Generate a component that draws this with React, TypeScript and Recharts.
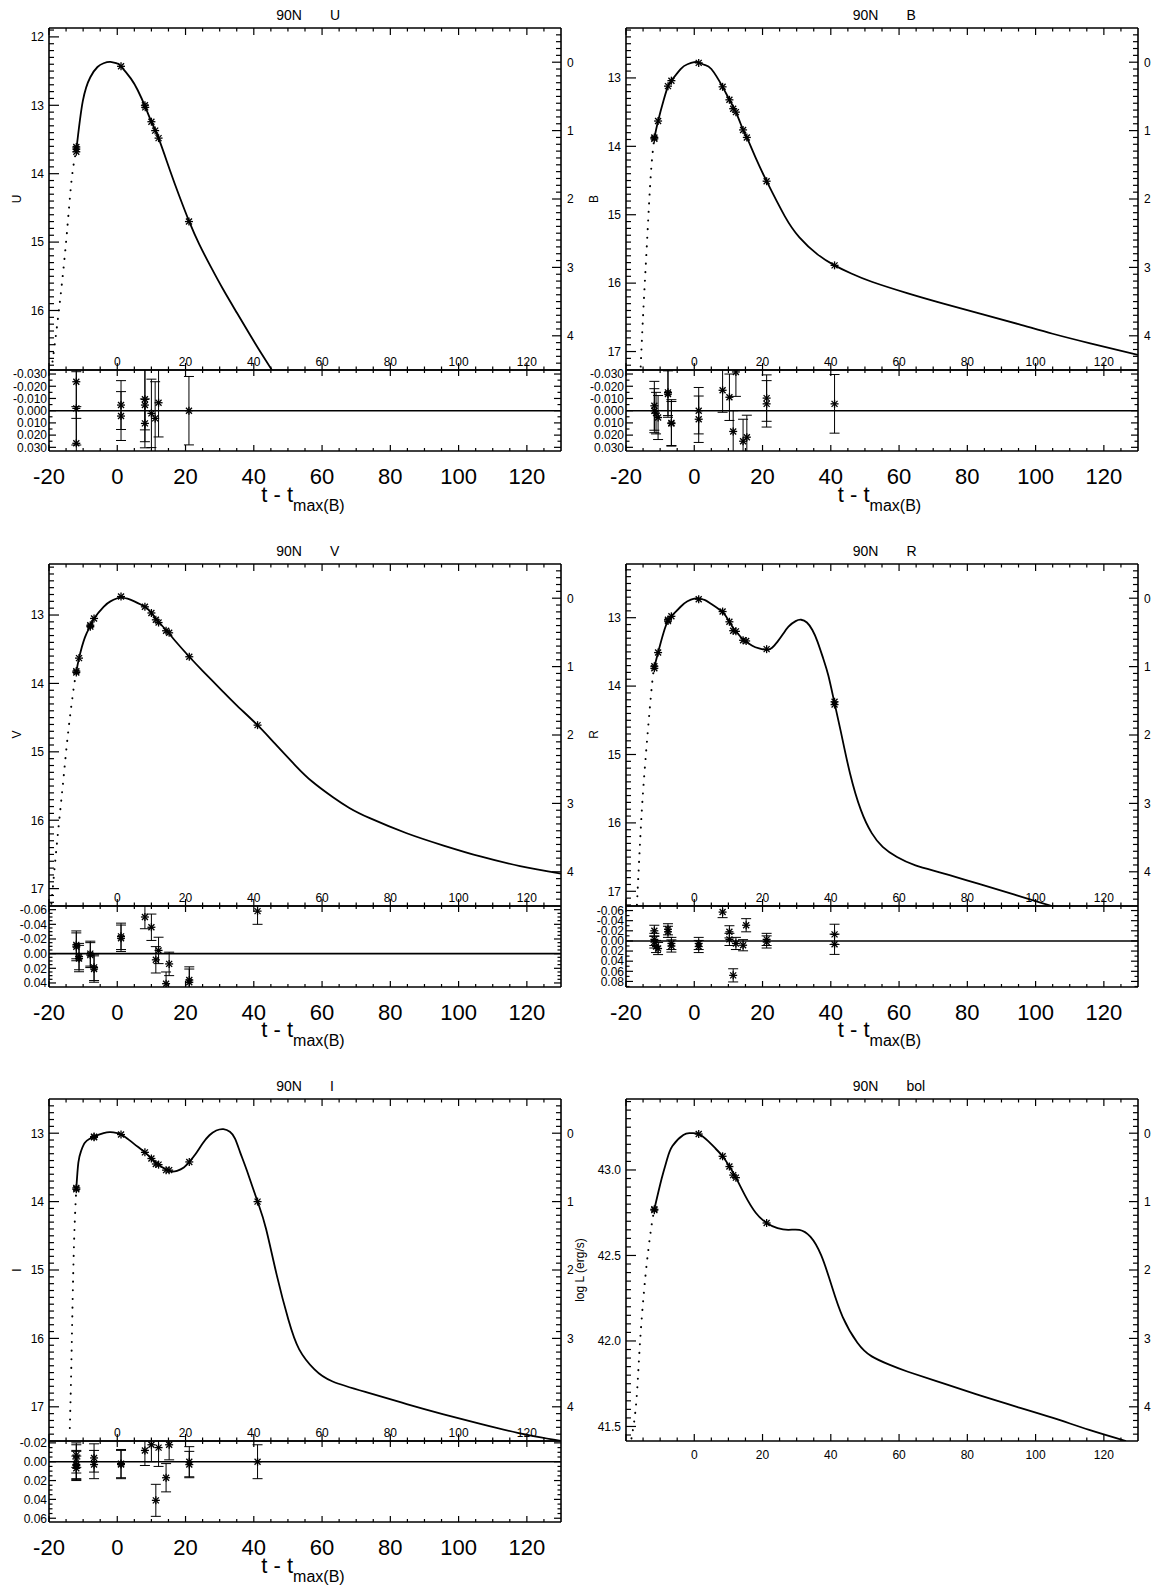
import React from 'react'
import { ComposedChart, Line, Scatter, XAxis, YAxis, ReferenceLine, ErrorBar } from 'recharts'

// ---- data: [t - tmax(B) (days), magnitude]  /  residuals: [t, resid, err] ----
const uObs = [[-12.0, 13.61], [-12.0, 13.64], [-12.0, 13.68], [1.1, 12.43], [8.1, 13.0], [8.2, 13.03], [10.0, 13.24], [11.1, 13.37], [12.1, 13.48], [21.0, 14.7]]
const uRise = [[-19.3, 16.87], [-17.2, 16.04], [-15.0, 15.0], [-13.4, 14.1], [-12.0, 13.66]]
const uFit = [[-12.0, 13.66], [-10.1, 12.94], [-7.9, 12.59], [-5.8, 12.44], [-4.0, 12.385], [-2.0, 12.365], [0.0, 12.39], [1.1, 12.43], [4.0, 12.61], [6.0, 12.78], [8.1, 13.01], [10.0, 13.24], [12.1, 13.48], [15.4, 13.945], [18.2, 14.33], [21.0, 14.69], [24.0, 15.03], [27.5, 15.37], [31.0, 15.69], [35.0, 16.03], [38.7, 16.34], [42.0, 16.61], [45.3, 16.87]]
const uRes = [[-12.0, -0.0237, 0.03], [-12.0, -0.0019, 0.03], [-12.0, 0.0267, 0.03], [1.1, -0.0046, 0.02], [1.1, 0.0044, 0.02], [8.1, -0.0093, 0.025], [8.1, -0.0046, 0.03], [8.1, 0.0104, 0.02], [10.0, 0.0022, 0.028], [11.1, 0.0063, 0.03], [12.1, -0.0065, 0.028], [21.0, 0.0, 0.028]]

const bObs = [[-11.7, 13.87], [-11.7, 13.89], [-10.6, 13.63], [-7.7, 13.12], [-6.7, 13.04], [1.3, 12.78], [8.3, 13.13], [10.3, 13.32], [11.4, 13.45], [12.2, 13.5], [14.3, 13.76], [15.4, 13.87], [21.2, 14.51], [41.1, 15.74]]
const bRise = [[-15.7, 17.22], [-14.9, 16.38], [-13.8, 15.36], [-12.7, 14.39], [-11.7, 13.88]]
const bFit = [[-11.7, 13.88], [-10.6, 13.63], [-9.0, 13.33], [-7.7, 13.12], [-6.7, 13.04], [-4.0, 12.87], [-2.0, 12.8], [0.0, 12.77], [1.3, 12.775], [3.0, 12.81], [5.0, 12.87], [8.3, 13.13], [10.3, 13.32], [12.2, 13.5], [14.3, 13.76], [15.4, 13.87], [18.0, 14.17], [21.2, 14.51], [26.5, 15.02], [30.8, 15.33], [36.1, 15.58], [41.1, 15.74], [46.0, 15.86], [52.0, 15.98], [62.6, 16.15], [73.0, 16.3], [84.0, 16.45], [95.0, 16.6], [105.0, 16.74], [116.0, 16.88], [130.0, 17.05]]
const bRes = [[-11.7, 0.0, 0.018], [-11.7, -0.004, 0.02], [-11.2, 0.002, 0.017], [-10.6, 0.0056, 0.018], [-7.7, -0.015, 0.019], [-7.7, -0.0136, 0.019], [-6.7, 0.01, 0.019], [-6.7, 0.0105, 0.018], [1.3, 0.0, 0.019], [1.3, 0.007, 0.019], [8.3, -0.0167, 0.018], [10.3, -0.011, 0.019], [11.4, 0.017, 0.017], [12.2, -0.0317, 0.02], [14.3, 0.025, 0.018], [15.4, 0.0217, 0.018], [21.2, -0.0103, 0.019], [21.2, -0.0056, 0.019], [41.1, -0.0056, 0.024]]

const vObs = [[-12.0, 13.84], [-12.0, 13.82], [-11.2, 13.63], [-7.9, 13.15], [-7.9, 13.17], [-6.8, 13.05], [1.1, 12.73], [8.1, 12.88], [10.0, 12.97], [11.3, 13.07], [12.1, 13.11], [14.3, 13.23], [15.2, 13.26], [21.1, 13.61], [41.1, 14.61]]
const vRise = [[-19.3, 17.22], [-17.7, 16.35], [-16.0, 15.51], [-14.4, 14.72], [-12.8, 14.08], [-12.0, 13.83]]
const vFit = [[-12.0, 13.83], [-11.2, 13.63], [-9.5, 13.33], [-7.9, 13.16], [-6.8, 13.05], [-4.0, 12.88], [-2.0, 12.8], [0.0, 12.755], [1.1, 12.745], [3.0, 12.76], [5.0, 12.8], [8.1, 12.88], [10.0, 12.97], [12.1, 13.1], [14.3, 13.22], [17.0, 13.38], [21.1, 13.61], [25.0, 13.815], [30.6, 14.1], [35.0, 14.32], [41.1, 14.61], [46.0, 14.87], [52.2, 15.2], [57.0, 15.43], [63.1, 15.66], [68.0, 15.82], [74.0, 15.97], [84.8, 16.19], [95.6, 16.37], [106.4, 16.53], [118.0, 16.67], [130.0, 16.78]]
const vRes = [[-12.0, -0.0093, 0.019], [-12.0, -0.012, 0.019], [-11.2, 0.004, 0.018], [-11.2, 0.0067, 0.018], [-7.9, 0.0, 0.017], [-7.9, 0.002, 0.017], [-6.8, 0.0187, 0.018], [-6.8, 0.021, 0.018], [1.1, -0.021, 0.018], [1.1, -0.0236, 0.018], [8.1, -0.05, 0.016], [10.0, -0.036, 0.018], [11.3, 0.0084, 0.018], [12.1, -0.0044, 0.018], [14.3, 0.041, 0.016], [15.2, 0.014, 0.016], [21.1, 0.036, 0.018], [21.1, 0.039, 0.018], [41.1, -0.058, 0.018]]

const rObs = [[-11.7, 13.71], [-11.7, 13.74], [-10.6, 13.51], [-7.7, 13.05], [-7.7, 13.03], [-6.7, 12.98], [1.3, 12.73], [8.3, 12.91], [10.3, 13.06], [11.4, 13.19], [12.2, 13.2], [14.3, 13.33], [15.2, 13.34], [21.2, 13.46], [41.1, 14.23], [41.1, 14.27]]
const rRise = [[-16.8, 17.2], [-15.9, 16.3], [-14.9, 15.47], [-13.3, 14.48], [-12.2, 13.89], [-11.7, 13.72]]
const rFit = [[-11.7, 13.72], [-10.6, 13.51], [-9.0, 13.22], [-7.7, 13.04], [-6.7, 12.98], [-4.0, 12.84], [-2.0, 12.76], [0.0, 12.72], [1.3, 12.72], [3.0, 12.74], [5.0, 12.8], [8.3, 12.92], [10.3, 13.06], [11.4, 13.15], [12.2, 13.2], [14.3, 13.32], [15.2, 13.35], [17.0, 13.41], [19.0, 13.45], [21.2, 13.47], [22.8, 13.44], [24.4, 13.35], [26.0, 13.24], [27.6, 13.13], [29.7, 13.05], [31.3, 13.03], [33.0, 13.07], [34.6, 13.18], [36.1, 13.35], [37.8, 13.6], [39.3, 13.85], [41.1, 14.25], [43.0, 14.68], [45.6, 15.27], [48.8, 15.81], [52.0, 16.15], [55.2, 16.35], [59.4, 16.5], [64.8, 16.62], [73.2, 16.74], [83.9, 16.9], [94.5, 17.06], [105.0, 17.22]]
const rRes = [[-11.7, -0.02, 0.011], [-11.7, -0.003, 0.012], [-11.7, 0.002, 0.012], [-11.2, 0.011, 0.012], [-10.6, 0.015, 0.012], [-7.7, -0.023, 0.011], [-7.7, -0.018, 0.011], [-6.7, 0.005, 0.012], [-6.7, 0.01, 0.012], [1.3, 0.005, 0.012], [1.3, 0.011, 0.012], [8.3, -0.057, 0.011], [10.3, -0.018, 0.012], [10.3, -0.003, 0.012], [11.4, 0.068, 0.013], [12.2, 0.005, 0.012], [14.3, 0.0085, 0.011], [15.2, -0.031, 0.013], [21.2, -0.003, 0.012], [21.2, 0.002, 0.012], [41.1, -0.013, 0.02], [41.1, 0.0066, 0.02]]

const iObs = [[-12.0, 13.8], [-12.0, 13.82], [-6.8, 13.06], [-6.8, 13.05], [1.1, 13.02], [8.1, 13.28], [10.0, 13.37], [11.3, 13.45], [12.1, 13.46], [14.3, 13.54], [15.2, 13.54], [21.1, 13.42], [41.1, 14.0]]
const iRise = [[-13.9, 17.31], [-13.5, 16.5], [-13.1, 15.5], [-12.6, 14.5], [-12.0, 13.81]]
const iFit = [[-12.0, 13.81], [-11.4, 13.43], [-10.6, 13.26], [-9.5, 13.14], [-8.0, 13.08], [-6.8, 13.05], [-4.0, 13.0], [-2.0, 12.985], [0.0, 13.0], [1.1, 13.02], [3.0, 13.08], [5.0, 13.16], [8.1, 13.28], [10.0, 13.37], [12.1, 13.46], [14.3, 13.53], [15.9, 13.56], [17.5, 13.55], [19.5, 13.5], [21.1, 13.42], [23.0, 13.3], [25.0, 13.15], [27.0, 13.03], [29.0, 12.96], [31.1, 12.94], [33.0, 12.98], [34.5, 13.08], [36.0, 13.28], [38.0, 13.55], [41.1, 14.0], [43.6, 14.4], [46.8, 15.09], [50.1, 15.72], [53.3, 16.16], [57.7, 16.45], [63.1, 16.63], [73.9, 16.8], [84.8, 16.96], [95.6, 17.11], [106.4, 17.25], [117.3, 17.38], [130.0, 17.5]]
const iRes = [[-12.0, -0.007, 0.013], [-12.0, -0.003, 0.015], [-12.0, 0.003, 0.015], [-12.0, 0.004, 0.015], [-12.0, 0.007, 0.013], [-6.8, -0.004, 0.015], [-6.8, 0.003, 0.015], [1.1, 0.002, 0.015], [1.1, 0.003, 0.015], [8.1, -0.012, 0.016], [10.0, -0.018, 0.018], [11.3, 0.041, 0.017], [12.1, -0.015, 0.02], [14.3, 0.017, 0.015], [15.2, -0.018, 0.016], [21.1, 0.0, 0.016], [21.1, 0.003, 0.014], [41.1, 0.0, 0.018]]

// bolometric: [t, log L]
const bolObs = [[-11.7, 42.77], [-11.7, 42.765], [1.3, 43.21], [8.3, 43.08], [10.3, 43.02], [11.4, 42.97], [12.2, 42.955], [21.2, 42.69]]
const bolRise = [[-18.4, 41.43], [-17.0, 41.64], [-15.9, 41.99], [-14.3, 42.38], [-12.7, 42.65], [-11.7, 42.77]]
const bolFit = [[-11.7, 42.77], [-9.55, 42.95], [-8.0, 43.06], [-6.4, 43.14], [-3.2, 43.205], [-1.1, 43.215], [1.3, 43.21], [4.0, 43.17], [6.0, 43.13], [8.3, 43.08], [10.3, 43.02], [12.2, 42.955], [14.9, 42.85], [18.0, 42.75], [21.2, 42.69], [24.4, 42.66], [27.6, 42.65], [30.8, 42.65], [34.0, 42.61], [37.2, 42.5], [40.3, 42.32], [43.5, 42.14], [47.8, 41.99], [52.0, 41.91], [57.3, 41.86], [62.6, 41.82], [73.2, 41.75], [83.9, 41.68], [94.5, 41.615], [105.1, 41.55], [115.7, 41.48], [126.5, 41.415]]

// ---- tick labels ----
const X_MAJOR = [-20, 0, 20, 40, 60, 80, 100, 120]
const X_SMALL_LABELS = [0, 20, 40, 60, 80, 100, 120]
const X_BIG_LABELS = [-20, 0, 20, 40, 60, 80, 100, 120]
const REL_LABELS = [0, 1, 2, 3, 4]
const MAG_LABELS_U = [12, 13, 14, 15, 16]
const MAG_LABELS = [13, 14, 15, 16, 17]
const BOL_LABELS = [41.5, 42.0, 42.5, 43.0]
const RES_LABELS_UB = [-0.03, -0.02, -0.01, 0, 0.01, 0.02, 0.03]
const RES_LABELS_V = [-0.06, -0.04, -0.02, 0, 0.02, 0.04]
const RES_LABELS_R = [-0.06, -0.04, -0.02, 0, 0.02, 0.04, 0.06, 0.08]
const RES_LABELS_I = [-0.02, 0, 0.02, 0.04, 0.06]

const FONT = '"Liberation Sans", Arial, Helvetica, sans-serif'
const PL = 49, PT = 28, PW = 512, PH = 342
const RPT = 10, RPH = 81
const CW = 574
const COLS = [49, 625.5]
const ROWS = [28, 563.5, 1099]

const range = (a: number, b: number, s: number) => {
  const n = Math.round((b - a) / s)
  return Array.from({ length: n + 1 }, (_, i) => Math.round((a + i * s) * 1e5) / 1e5)
}
const has = (arr: number[], v: number) => arr.some((a) => Math.abs(a - v) < 1e-6)
const pts = (a: number[][]) => a.map(([t, m]) => ({ t, m }))
const res = (a: number[][]) => a.map(([t, r, e]) => ({ t, r, e }))

const X_MINOR = range(-20, 125, 5)
const REL_MINOR = range(-0.4, 4.4, 0.1)

const bands = [
  { name: 'U', col: 0, row: 0, peak: 12.37, obs: uObs, rise: uRise, fit: uFit, yLabels: MAG_LABELS_U, yMinor: range(11.9, 16.8, 0.1), res: uRes, resDom: [-0.0333, 0.033], resLabels: RES_LABELS_UB, resMinor: range(-0.03, 0.03, 0.005), resDec: 3 },
  { name: 'B', col: 1, row: 0, peak: 12.77, obs: bObs, rise: bRise, fit: bFit, yLabels: MAG_LABELS, yMinor: range(12.3, 17.2, 0.1), res: bRes, resDom: [-0.0333, 0.033], resLabels: RES_LABELS_UB, resMinor: range(-0.03, 0.03, 0.005), resDec: 3 },
  { name: 'V', col: 0, row: 1, peak: 12.754, obs: vObs, rise: vRise, fit: vFit, yLabels: MAG_LABELS, yMinor: range(12.3, 17.2, 0.1), res: vRes, resDom: [-0.065, 0.0455], resLabels: RES_LABELS_V, resMinor: range(-0.06, 0.04, 0.005), resDec: 2 },
  { name: 'R', col: 1, row: 1, peak: 12.715, obs: rObs, rise: rRise, fit: rFit, yLabels: MAG_LABELS, yMinor: range(12.3, 17.2, 0.1), res: rRes, resDom: [-0.069, 0.091], resLabels: RES_LABELS_R, resMinor: range(-0.06, 0.09, 0.01), resDec: 2 },
  { name: 'I', col: 0, row: 2, peak: 13.0, obs: iObs, rise: iRise, fit: iFit, yLabels: MAG_LABELS, yMinor: range(12.6, 17.4, 0.1), res: iRes, resDom: [-0.022, 0.064], resLabels: RES_LABELS_I, resMinor: range(-0.02, 0.06, 0.005), resDec: 2 },
  { name: 'bol', col: 1, row: 2, peak: 43.215, obs: bolObs, rise: bolRise, fit: bolFit, yLabels: BOL_LABELS, yMinor: range(41.45, 43.4, 0.05), res: null, resDom: [0, 0], resLabels: [], resMinor: [], resDec: 1 },
]

const txt = { fontFamily: FONT, fill: '#000' }

const Star = (p: any) => {
  const { cx, cy } = p
  if (cx == null || cy == null) return null
  return (
    <g stroke="#000" strokeWidth={1.3}>
      <line x1={cx - 4} y1={cy} x2={cx + 4} y2={cy} />
      <line x1={cx} y1={cy - 4} x2={cx} y2={cy + 4} />
      <line x1={cx - 3} y1={cy - 3} x2={cx + 3} y2={cy + 3} />
      <line x1={cx - 3} y1={cy + 3} x2={cx + 3} y2={cy - 3} />
    </g>
  )
}

// x ticks pointing into the box; label drawn only where asked
const xTick = (edge: number, dir: number, maj: number, min: number, labels: number[], ly: number, fs: number) => (p: any) => {
  const v = p.payload.value
  const len = has(X_MAJOR, v) ? maj : min
  return (
    <g>
      <line x1={p.x} x2={p.x} y1={edge} y2={edge + dir * len} stroke="#000" strokeWidth={1.2} />
      {has(labels, v) && <text x={p.x} y={ly} textAnchor="middle" fontSize={fs} {...txt}>{v}</text>}
    </g>
  )
}

const yTick = (edge: number, dir: number, maj: number, min: number, labels: number[], fmt: ((v: number) => string) | null, lx: number, fs: number) => (p: any) => {
  const v = p.payload.value
  const isMaj = has(labels, v)
  return (
    <g>
      <line x1={edge} x2={edge + dir * (isMaj ? maj : min)} y1={p.y} y2={p.y} stroke="#000" strokeWidth={1.2} />
      {isMaj && fmt && <text x={lx} y={p.y + 4.3} textAnchor={dir > 0 ? 'end' : 'start'} fontSize={fs} {...txt}>{fmt(v)}</text>}
    </g>
  )
}

const frame = { stroke: '#000', strokeWidth: 1.6 }

function MainPanel({ b }: { b: any }) {
  const isBol = b.name === 'bol'
  const dom = isBol ? [b.peak - 1.8, b.peak + 0.2] : [b.peak - 0.5, b.peak + 4.5]
  const botH = isBol ? 30 : 1
  const H = PT + PH + botH
  const fmt = isBol ? (v: number) => v.toFixed(1) : (v: number) => String(v)
  return (
    <div style={{ position: 'absolute', left: COLS[b.col] - PL, top: ROWS[b.row] - PT }}>
      <ComposedChart width={CW} height={H} margin={{ top: 0, right: 0, bottom: 0, left: 0 }}>
        <XAxis xAxisId="b" type="number" dataKey="t" domain={[-20, 130]} allowDataOverflow ticks={X_MINOR} interval={0}
          height={botH} axisLine={frame} tickLine={false}
          tick={xTick(PT + PH, -1, 7, 3.5, X_SMALL_LABELS, isBol ? PT + PH + 17.5 : PT + PH - 4, 12)} />
        <XAxis xAxisId="t" orientation="top" type="number" dataKey="t" domain={[-20, 130]} allowDataOverflow ticks={X_MINOR} interval={0}
          height={PT} axisLine={frame} tickLine={false} tick={xTick(PT, 1, 7, 3.5, [], 0, 12)} />
        <YAxis yAxisId="l" type="number" domain={dom} allowDataOverflow reversed={!isBol} ticks={b.yMinor} interval={0}
          width={PL} axisLine={frame} tickLine={false} tick={yTick(PL, 1, 10, 5, b.yLabels, fmt, PL - 5, 12)} />
        <YAxis yAxisId="r" orientation="right" type="number" domain={[-0.5, 4.5]} allowDataOverflow reversed ticks={REL_MINOR} interval={0}
          width={CW - PL - PW} axisLine={frame} tickLine={false} tick={yTick(PL + PW, -1, 9, 5, REL_LABELS, (v) => String(v), PL + PW + 6, 12)} />
        <Line xAxisId="b" yAxisId="l" data={pts(b.rise)} dataKey="m" type="natural" stroke="#000" strokeWidth={2}
          strokeDasharray="0.1 8.5" strokeLinecap="round" dot={false} activeDot={false} isAnimationActive={false} />
        <Line xAxisId="b" yAxisId="l" data={pts(b.fit)} dataKey="m" type="natural" stroke="#000" strokeWidth={1.8}
          dot={false} activeDot={false} isAnimationActive={false} />
        <Scatter xAxisId="b" yAxisId="l" data={pts(b.obs)} dataKey="m" shape={Star} isAnimationActive={false} />
      </ComposedChart>
    </div>
  )
}

// residual box: one chart for the frame, ticks and labels, and one sized to the
// plot area for the points, so error bars are cut at the box edges
function ResidPanel({ b }: { b: any }) {
  const fmt = (v: number) => v.toFixed(b.resDec)
  return (
    <>
      <div style={{ position: 'absolute', left: COLS[b.col] - PL, top: ROWS[b.row] + PH - RPT }}>
        <ComposedChart width={CW} height={RPT + RPH + 42} margin={{ top: 0, right: 0, bottom: 0, left: 0 }}>
          <XAxis xAxisId="b" type="number" dataKey="t" domain={[-20, 130]} allowDataOverflow ticks={X_MINOR} interval={0}
            height={42} axisLine={frame} tickLine={false}
            tick={xTick(RPT + RPH, -1, 6, 3, X_BIG_LABELS, RPT + RPH + 32.5, 22)} />
          <XAxis xAxisId="t" orientation="top" type="number" dataKey="t" domain={[-20, 130]} allowDataOverflow ticks={X_MINOR} interval={0}
            height={RPT} axisLine={frame} tickLine={false} tick={xTick(RPT, 1, 6, 3, [], 0, 12)} />
          <YAxis yAxisId="l" type="number" domain={b.resDom} allowDataOverflow reversed ticks={b.resMinor} interval={0}
            width={PL} axisLine={frame} tickLine={false} tick={yTick(PL, 1, 7, 3.5, b.resLabels, fmt, PL - 2, 12)} />
          <YAxis yAxisId="r" orientation="right" type="number" domain={b.resDom} allowDataOverflow reversed ticks={b.resMinor} interval={0}
            width={CW - PL - PW} axisLine={frame} tickLine={false} tick={yTick(PL + PW, -1, 7, 3.5, b.resLabels, null, 0, 12)} />
          <ReferenceLine xAxisId="b" yAxisId="l" y={0} stroke="#000" strokeWidth={1.6} />
        </ComposedChart>
      </div>
      <div style={{ position: 'absolute', left: COLS[b.col], top: ROWS[b.row] + PH, width: PW, height: RPH, overflow: 'hidden' }}>
        <ComposedChart width={PW} height={RPH} margin={{ top: 0, right: 0, bottom: 0, left: 0 }}>
          <XAxis hide type="number" dataKey="t" domain={[-20, 130]} allowDataOverflow />
          <YAxis hide type="number" domain={b.resDom} allowDataOverflow reversed />
          <Scatter data={res(b.res)} dataKey="r" shape={Star} isAnimationActive={false}>
            <ErrorBar dataKey="e" direction="y" width={5} stroke="#000" strokeWidth={1} isAnimationActive={false} />
          </Scatter>
        </ComposedChart>
      </div>
    </>
  )
}

export default function App() {
  return (
    <div style={{ position: 'absolute', left: 0, top: 0, width: 1151, height: 1594, background: '#fff', overflow: 'hidden' }}>
      {bands.map((b) => <MainPanel key={b.name + 'm'} b={b} />)}
      {bands.filter((b) => b.res).map((b) => <ResidPanel key={b.name + 'r'} b={b} />)}
      <svg width={1151} height={1594} style={{ position: 'absolute', left: 0, top: 0, pointerEvents: 'none' }}>
        {bands.map((b) => {
          const cx = COLS[b.col] + PW / 2
          const top = ROWS[b.row]
          const isBol = b.name === 'bol'
          return (
            <g key={b.name}>
              <text x={cx - 16} y={top - 8} textAnchor="middle" fontSize={14} {...txt}>90N</text>
              <text x={cx + 25} y={top - 8} textAnchor="start" fontSize={14} {...txt}>{b.name}</text>
              <text transform={`translate(${COLS[b.col] - (isBol ? 41.5 : 28)}, ${top + PH / 2}) rotate(-90)`} textAnchor="middle" fontSize={12} {...txt}>
                {isBol ? 'log L (erg/s)' : b.name}
              </text>
              {!isBol && (
                <text x={cx - 2} y={top + 473.5} textAnchor="middle" {...txt}>
                  <tspan fontSize={22}>t - t</tspan>
                  <tspan fontSize={16} dy={9}>max(B)</tspan>
                </text>
              )}
            </g>
          )
        })}
      </svg>
    </div>
  )
}
